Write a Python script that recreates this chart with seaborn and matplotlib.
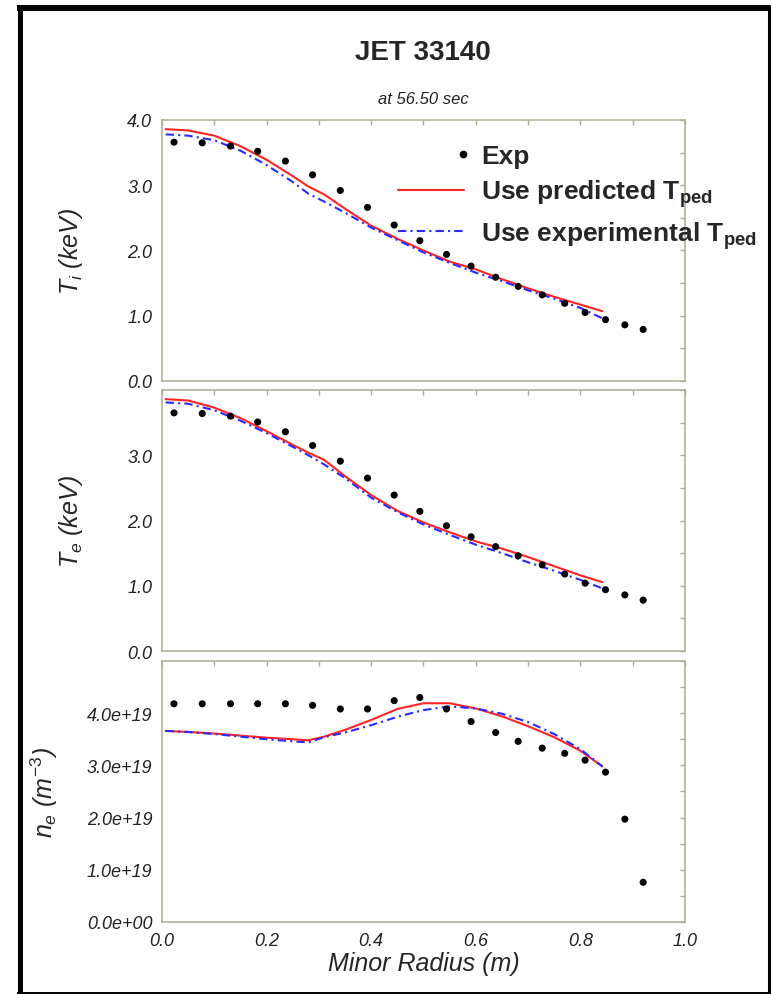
import numpy as np
import matplotlib
matplotlib.use("Agg")
import matplotlib.pyplot as plt
from matplotlib.lines import Line2D
from matplotlib.ticker import MultipleLocator, FuncFormatter
from matplotlib.legend_handler import HandlerLine2D
import seaborn as sns

# experimental points
r_exp = [0.023, 0.077, 0.131, 0.183, 0.236, 0.288, 0.341, 0.393, 0.444, 0.493,
         0.544, 0.591, 0.638, 0.681, 0.727, 0.770, 0.809, 0.848, 0.885, 0.920]
ti_exp = [3.66, 3.65, 3.60, 3.52, 3.37, 3.16, 2.92, 2.66, 2.39, 2.15,
          1.94, 1.76, 1.59, 1.45, 1.32, 1.19, 1.05, 0.94, 0.86, 0.79]
te_exp = [3.65, 3.64, 3.60, 3.51, 3.36, 3.15, 2.91, 2.65, 2.39, 2.14,
          1.92, 1.75, 1.60, 1.46, 1.32, 1.18, 1.04, 0.94, 0.86, 0.78]
ne_exp = [4.18, 4.18, 4.18, 4.18, 4.18, 4.15, 4.08, 4.08, 4.24, 4.30,
          4.08, 3.84, 3.63, 3.46, 3.33, 3.23, 3.10, 2.87, 1.97, 0.76]  # 1e19 m^-3

# simulated profiles
r_model = [0.007, 0.05, 0.1, 0.15, 0.2, 0.25, 0.28, 0.31, 0.35, 0.4,
           0.45, 0.5, 0.55, 0.6, 0.65, 0.7, 0.75, 0.8, 0.842]
ti_pred = [3.86, 3.84, 3.76, 3.60, 3.39, 3.14, 2.98, 2.86, 2.64, 2.38,
           2.18, 2.00, 1.83, 1.71, 1.56, 1.42, 1.29, 1.17, 1.07]
ti_expped = [3.78, 3.76, 3.69, 3.53, 3.31, 3.05, 2.87, 2.75, 2.58, 2.35,
             2.16, 1.97, 1.81, 1.66, 1.53, 1.39, 1.26, 1.12, 0.96]
te_pred = [3.86, 3.84, 3.73, 3.57, 3.37, 3.16, 3.04, 2.93, 2.68, 2.39,
           2.15, 1.97, 1.82, 1.68, 1.57, 1.44, 1.30, 1.16, 1.055]
te_expped = [3.81, 3.79, 3.69, 3.53, 3.34, 3.13, 3.00, 2.86, 2.65, 2.35,
             2.13, 1.94, 1.78, 1.63, 1.50, 1.36, 1.23, 1.09, 0.96]
ne_pred = [3.66, 3.64, 3.61, 3.57, 3.53, 3.50, 3.48, 3.55, 3.68, 3.87,
           4.08, 4.19, 4.19, 4.09, 3.94, 3.75, 3.54, 3.28, 2.98]
ne_expped = [3.66, 3.64, 3.60, 3.55, 3.50, 3.46, 3.44, 3.54, 3.63, 3.77,
             3.93, 4.06, 4.13, 4.09, 3.99, 3.83, 3.60, 3.31, 2.98]

ylabels = [r"$T_i$ (keV)", r"$T_e$ (keV)", r"$n_e$ ($m^{-3}$)"]

sns.set_style("white")
plt.rcParams["font.family"] = ["Liberation Sans", "DejaVu Sans"]
plt.rcParams["font.style"] = "italic"
plt.rcParams["mathtext.fontset"] = "custom"
plt.rcParams["mathtext.rm"] = "Liberation Sans:style=normal"
plt.rcParams["mathtext.it"] = "Liberation Sans:style=italic"
plt.rcParams["mathtext.bf"] = "Liberation Sans:style=normal:weight=bold"

spine_col = "#aeac94"
red = "#ff2424"
blue = "#2a2aff"
dashdot = (0, (4, 2, 1, 2))


class RightDotHandler(HandlerLine2D):
    """Put the single marker near the right end of the legend handle."""
    def create_artists(self, legend, orig_handle, xdescent, ydescent, width,
                       height, fontsize, trans):
        artists = super().create_artists(legend, orig_handle, xdescent, ydescent,
                                         width, height, fontsize, trans)
        x = -xdescent + width - 0.05 * fontsize
        for a in artists:
            a.set_xdata([x] * len(a.get_xdata()))
        return artists


fig = plt.figure(figsize=(7.72, 9.95), dpi=100)
left, width, height = 0.2098, 0.6775, 0.2623
bottoms = [0.6161, 0.3447, 0.0724]
axes = [fig.add_axes([left, b, width, height]) for b in bottoms]

panels = [
    (np.array(ti_exp), np.array(ti_pred), np.array(ti_expped)),
    (np.array(te_exp), np.array(te_pred), np.array(te_expped)),
    (np.array(ne_exp) * 1e19, np.array(ne_pred) * 1e19, np.array(ne_expped) * 1e19),
]

for i, (ax, (yexp, ypred, yexpped)) in enumerate(zip(axes, panels)):
    sns.lineplot(x=r_model, y=ypred, ax=ax, color=red, linewidth=1.5,
                 sort=False, estimator=None)
    sns.lineplot(x=r_model, y=yexpped, ax=ax, color=blue, linewidth=1.5,
                 linestyle=dashdot, sort=False, estimator=None)
    sns.scatterplot(x=r_exp, y=yexp, ax=ax, color="black", s=26,
                    edgecolor="none", zorder=5)

    ax.set_xlim(0, 1.0)
    ax.xaxis.set_major_locator(MultipleLocator(0.2))
    ax.xaxis.set_minor_locator(MultipleLocator(0.1))
    if i < 2:
        ax.set_ylim(0, 4.0)
        ax.set_yticks([0, 1, 2, 3, 4] if i == 0 else [0, 1, 2, 3])
        ax.yaxis.set_minor_locator(MultipleLocator(0.5))
        ax.yaxis.set_major_formatter(FuncFormatter(lambda v, p: f"{v:.1f}"))
        ax.tick_params(axis="x", labelbottom=False)
        ax.yaxis.set_label_coords(-0.147, 0.5)
    else:
        ax.set_ylim(0, 5e19)
        ax.set_yticks([0, 1e19, 2e19, 3e19, 4e19])
        ax.yaxis.set_minor_locator(MultipleLocator(0.5e19))
        ax.yaxis.set_major_formatter(FuncFormatter(lambda v, p: f"{v:.1e}"))
        ax.xaxis.set_major_formatter(FuncFormatter(lambda v, p: f"{v:.1f}"))
        ax.set_xlabel("Minor Radius (m)", fontsize=18, labelpad=2)
        ax.yaxis.set_label_coords(-0.195, 0.5)
    ax.set_ylabel(ylabels[i], fontsize=18)

    ax.tick_params(which="both", direction="in", top=True, right=True,
                   length=3.5, width=1, color=spine_col, labelsize=13,
                   labelcolor="#222222", pad=7)
    for sp in ax.spines.values():
        sp.set_color(spine_col)
        sp.set_linewidth(1.1)

handles = [
    Line2D([], [], color="black", marker="o", linestyle="none", markersize=4.5),
    Line2D([], [], color=red, linewidth=1.5),
    Line2D([], [], color=blue, linewidth=1.5, linestyle=dashdot),
]
labels = ["Exp", r"Use predicted T$_{\bf ped}$", r"Use experimental T$_{\bf ped}$"]
axes[0].legend(handles, labels, loc="upper left", bbox_to_anchor=(0.451, 0.907),
               frameon=False, borderpad=0, borderaxespad=0, handlelength=2.5,
               handletextpad=0.65, labelspacing=0.36,
               prop={"weight": "bold", "size": 19, "style": "normal"},
               handler_map={handles[0]: RightDotHandler()})

fig.text(0.548, 0.947, "JET 33140", ha="center", va="center", fontsize=20,
         fontweight="bold", fontstyle="normal")
fig.text(0.548, 0.8995, "at 56.50 sec", ha="center", va="center", fontsize=12,
         color="#222222")

# frame round the whole picture
W, H = 772.0, 995.0
fig.add_artist(Line2D([19.5 / W, 19.5 / W], [0, 1 - 6 / H], transform=fig.transFigure,
                      color="black", linewidth=3.6, solid_capstyle="butt"))
fig.add_artist(Line2D([17 / W, 770 / W], [1 - 9 / H, 1 - 9 / H], transform=fig.transFigure,
                      color="black", linewidth=4.3, solid_capstyle="butt"))
fig.add_artist(Line2D([768.5 / W, 768.5 / W], [0, 1 - 6 / H], transform=fig.transFigure,
                      color="black", linewidth=2.2, solid_capstyle="butt"))
fig.add_artist(Line2D([17 / W, 770 / W], [1 / H, 1 / H], transform=fig.transFigure,
                      color="black", linewidth=1.4, solid_capstyle="butt"))

fig.savefig("out.png", dpi=100)
plt.close(fig)
